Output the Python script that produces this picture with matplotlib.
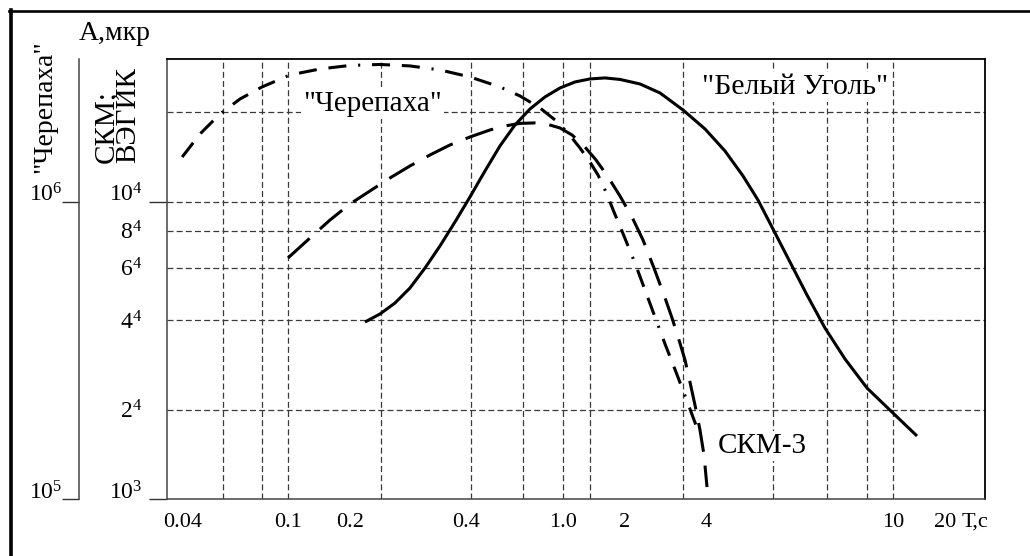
import numpy as np
import matplotlib
matplotlib.use('Agg')
import matplotlib.pyplot as plt
from matplotlib.ticker import FixedLocator, FixedFormatter, NullLocator
from matplotlib.lines import Line2D

plt.rcParams['font.family'] = ['Liberation Serif', 'DejaVu Serif']
plt.rcParams['mathtext.fontset'] = 'custom'
plt.rcParams['mathtext.rm'] = 'Liberation Serif'
plt.rcParams['mathtext.it'] = 'Liberation Serif:italic'
plt.rcParams['lines.scale_dashes'] = False

# ---------------- data ----------------
x_tick_values = [0.04, 0.1, 0.2, 0.4, 1.0, 2, 4, 10, 20]
x_tick_labels = ['0.04', '0.1', '0.2', '0.4', '1.0', '2', '4', '10', '20']
x_grid = [0.0568, 0.0794, 0.1, 0.2406, 0.418, 0.6873, 1.0, 1.352, 3.278,
          5.563, 7.224, 8.79, 10.0]

y_major = [1e3, 1e4]
y_major_labels = [r'$\mathrm{10^3}$', r'$\mathrm{10^4}$']
y_minor = [2e3, 4e3, 6e3, 8e3]
y_minor_labels = [r'$\mathrm{2^4}$', r'$\mathrm{4^4}$', r'$\mathrm{6^4}$', r'$\mathrm{8^4}$']
y_grid = [2e3, 4e3, 6e3, 8e3, 1e4, 2e4]

outer_ticks = [1e5, 1e6]
outer_labels = [r'$\mathrm{10^5}$', r'$\mathrm{10^6}$']

cherepaha_t = [0.0397, 0.04639, 0.05525, 0.0658, 0.0797, 0.1023, 0.143, 0.2,
               0.2392, 0.2862, 0.3424, 0.4152, 0.5513, 0.6662, 0.8045, 0.9273,
               1.0575, 1.209, 1.352, 1.479, 1.617, 1.768, 1.978, 2.178, 2.373,
               2.585, 2.817, 3.094, 3.40, 3.704]
cherepaha_a = [14130, 16900, 19730, 22160, 24320, 26690, 27960, 28730,
               28950, 28620, 27750, 26280, 24320, 22680, 20670, 18840,
               17030, 15160, 13600, 12300, 10780, 9236, 7666, 6220, 5048,
               4095, 3322, 2674, 2137, 1733]

skm_t = [0.1, 0.1279, 0.16, 0.2, 0.2254, 0.254, 0.2862, 0.3225, 0.3635,
         0.4152, 0.5017, 0.578, 0.6662, 0.7675, 0.868, 0.972, 1.106, 1.265,
         1.446, 1.654, 1.891, 2.123, 2.333, 2.563, 2.817, 2.991, 3.175, 3.342,
         3.487, 3.640, 3.799, 3.932, 4.02]
skm_a = [6467, 7551, 8682, 9826, 10870, 12020, 13190, 14360, 15520,
         16510, 17430, 17980, 18340, 18410, 18190, 17700, 16770, 15400,
         13820, 12120, 10450, 8884, 7433, 5984, 4745, 4063, 3427, 2935,
         2475, 2071, 1707, 1406, 1097]

ugol_t = [0.2188, 0.2392, 0.2617, 0.2862, 0.3131, 0.3424, 0.3745, 0.4152,
          0.4786, 0.5513, 0.6353, 0.7322, 0.8435, 0.972, 1.1436, 1.352, 1.599,
          1.891, 2.274, 2.698, 3.285, 3.966, 4.390, 4.795, 5.161, 5.554, 6.036,
          6.56, 7.165, 7.904, 8.804, 10.0, 13.77]
ugol_a = [3939, 4191, 4563, 5127, 5984, 7098, 8546, 10373,
          12690, 15400, 18120, 20510, 22510, 24130, 25280, 25880, 26080,
          25780, 24890, 23220, 20350, 17570, 14810, 12210, 10130, 8094, 6270,
          4857, 3760, 2958, 2362, 1946, 1629]

# ---------------- x scale (hand-drawn, non-uniform log axis) ----------------
scale_vals = np.array([0.0347, 0.04, 0.1, 0.2, 0.4, 1.0, 2, 4, 10, 20, 34.1])
scale_pos = np.array([166.7, 183, 288, 350, 466, 563, 625, 706, 893, 945, 985])
scale_log = np.log10(scale_vals)


def fwd(x):
    x = np.clip(np.asarray(x, dtype=float), 1e-9, None)
    return np.interp(np.log10(x), scale_log, scale_pos)


def inv(p):
    return 10 ** np.interp(np.asarray(p, dtype=float), scale_pos, scale_log)


W, H = 1030, 556
fig = plt.figure(figsize=(W / 100, H / 100), dpi=100)
ax = fig.add_axes([166.7 / W, 1 - 499 / H, (985 - 166.7) / W, (499 - 59.3) / H])
ax.set_xscale('function', functions=(fwd, inv))
ax.set_yscale('log')
ax.set_xlim(scale_vals[0], scale_vals[-1])
ax.set_ylim(1e3, 3.013e4)

grid_kw = dict(color='#3a3a3a', lw=0.9, linestyle=(0, (4.3, 2.3)), zorder=1)
for gx in x_grid:
    ax.axvline(gx, **grid_kw)
for gy in y_grid:
    ax.axhline(gy, **grid_kw)

lw = 2.2
ax.plot(cherepaha_t, cherepaha_a, color='black', lw=lw,
        linestyle=(0, (13, 8.5, 13, 8.5, 1.5, 8.5)), zorder=3)
ax.plot(skm_t, skm_a, color='black', lw=lw,
        linestyle=(0, (21, 10)), zorder=3)
ax.plot(ugol_t, ugol_a, color='black', lw=lw, solid_capstyle='butt',
        solid_joinstyle='round', zorder=3)

# ticks
ax.xaxis.set_major_locator(FixedLocator(x_tick_values))
ax.xaxis.set_major_formatter(FixedFormatter(x_tick_labels))
ax.xaxis.set_minor_locator(NullLocator())
ax.tick_params(axis='x', which='both', length=0, pad=10, labelsize=16)

ax.yaxis.set_major_locator(FixedLocator(y_major))
ax.yaxis.set_major_formatter(FixedFormatter(y_major_labels))
ax.yaxis.set_minor_locator(FixedLocator(y_minor))
ax.yaxis.set_minor_formatter(FixedFormatter(y_minor_labels))
ax.tick_params(axis='y', which='major', direction='out', length=13, width=1,
               pad=4.5, labelsize=17, color='#333333')
ax.tick_params(axis='y', which='minor', length=0, pad=17.5, labelsize=17)
for lab in ax.get_yticklabels():
    lab.set_verticalalignment('baseline')

for s in ['top', 'right']:
    ax.spines[s].set_linewidth(1.3)
    ax.spines[s].set_color('black')
for s in ['left', 'bottom']:
    ax.spines[s].set_linewidth(1.1)
    ax.spines[s].set_color('#444444')

# outer "Черепаха" axis
sec = ax.secondary_yaxis(-(166.7 - 79.3) / (985 - 166.7),
                         functions=(lambda y: y * 100, lambda y: y / 100))
sec.yaxis.set_major_locator(FixedLocator(outer_ticks))
sec.yaxis.set_major_formatter(FixedFormatter(outer_labels))
sec.yaxis.set_minor_locator(NullLocator())
sec.tick_params(axis='y', which='major', direction='out', length=12.2, width=1,
                pad=0, labelsize=17, color='#333333')
sec.spines['left'].set_linewidth(1.1)
sec.spines['left'].set_color('#444444')
for lab in sec.get_yticklabels():
    lab.set_verticalalignment('baseline')

# texts
box = dict(facecolor='white', edgecolor='none', pad=1.5)
ax.text(0.251, 0.898, '"Черепаха"', fontsize=21, ha='center', va='center',
        bbox=box, zorder=2, transform=ax.transAxes)
ax.text(0.768, 0.937, '"Белый Уголь"', fontsize=21.5, ha='center', va='center',
        bbox=box, zorder=2, transform=ax.transAxes)
ax.text(0.728, 0.12, 'СКМ-3', fontsize=21, ha='center', va='center',
        bbox=box, zorder=2, transform=ax.transAxes)

fig.text(962 / W, 1 - 522 / H, 'Т,с', fontsize=16, ha='left', va='center')
fig.text(79 / W, 1 - 34 / H, 'А,мкр', fontsize=20, ha='left', va='center')
fig.text(117 / W, 1 - 163 / H, 'СКМ;\nВЭГИК', fontsize=21, rotation=90,
         ha='center', va='bottom', multialignment='left', linespacing=0.78)
fig.text(45 / W, 1 - 173 / H, '"Черепаха"', fontsize=20, rotation=90, ha='center', va='bottom')

# outer frame (left and top)
fig.add_artist(Line2D([11 / W, 11 / W], [0, 1 - 10 / H], transform=fig.transFigure,
                      color='black', lw=2.6))
fig.add_artist(Line2D([9 / W, 1], [1 - 11 / H, 1 - 11 / H], transform=fig.transFigure,
                      color='black', lw=1.9))

fig.savefig('out.png', dpi=100)
